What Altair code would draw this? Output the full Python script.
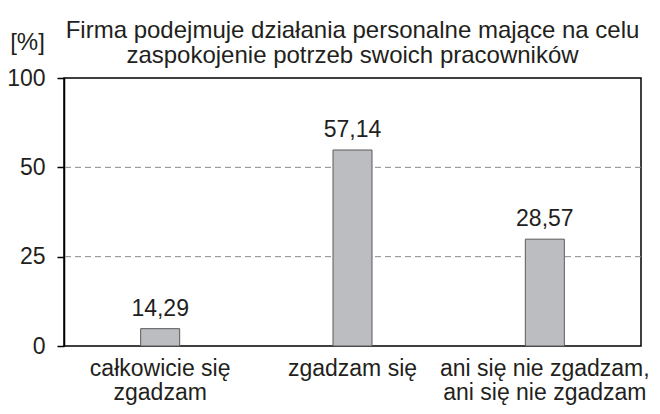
import altair as alt
import pandas as pd

categories = ["całkowicie się|zgadzam", "zgadzam się", "ani się nie zgadzam,|ani się nie zgadzam"]
bar_heights = [4.85, 59.7, 29.9]
value_labels = ["14,29", "57,14", "28,57"]
y_ticks = [0, 25, 50, 100]
grid_values = [25, 50]
title_lines = ["Firma podejmuje działania personalne mające na celu",
               "zaspokojenie potrzeb swoich pracowników"]

W, H = 577, 268
FONT = "Liberation Sans"
TXT = "#231f20"
FS = 24

df = pd.DataFrame({"cat": categories, "h": bar_heights, "lab": value_labels})
grid_df = pd.DataFrame({"g": grid_values})

yscale = alt.Scale(domain=y_ticks, range=[H, H * 2 / 3, H / 3, 0], nice=False)
xenc = alt.X("cat:N", sort=categories, scale=alt.Scale(paddingInner=0, paddingOuter=0),
             axis=alt.Axis(title=None, labelAngle=0, ticks=False, domain=False,
                           labelExpr="split(datum.value, '|')", labelLineHeight=24,
                           labelPadding=11, labelBaseline="top", labelFontSize=23,
                           labelLimit=0, labelColor=TXT, labelFont=FONT))

grid = alt.Chart(grid_df).mark_rule(color="#8a8a8a", strokeDash=[6, 4], strokeWidth=1).encode(
    y=alt.Y("g:Q", scale=yscale)
)

bars = alt.Chart(df).mark_bar(size=39, color="#bcbdc0", stroke="#5a5a5a", strokeWidth=1).encode(
    x=xenc,
    y=alt.Y("h:Q", scale=yscale,
            axis=alt.Axis(values=y_ticks, title="[%]", titleAngle=0, titleX=-37, titleY=-29,
                          titleAlign="center", titleBaseline="alphabetic", titleFontSize=FS,
                          titleFontWeight="normal", titleColor=TXT, titleFont=FONT,
                          grid=False, tickSize=7, tickColor="#000", domainColor="#000",
                          domainWidth=1.5, tickWidth=1.5, labelPadding=12, labelFontSize=FS - 1,
                          labelColor=TXT, labelFont=FONT)),
)

text = alt.Chart(df).mark_text(dy=-13, baseline="alphabetic", fontSize=FS - 1, font=FONT, color=TXT).encode(
    x=alt.X("cat:N", sort=categories),
    y=alt.Y("h:Q", scale=yscale),
    text="lab:N",
)

chart = alt.layer(grid, bars, text).properties(
    width=W, height=H,
    title=alt.TitleParams(text=title_lines, fontSize=24, font=FONT, fontWeight="normal",
                          color=TXT, anchor="middle", lineHeight=25, offset=-38),
    autosize=alt.AutoSizeParams(type="none"),
    padding={"left": 56, "top": 70, "right": 11, "bottom": 60},
).configure_view(stroke="#000", strokeWidth=1.5)

chart.save("out.html", embed_options={"renderer": "svg", "actions": False})
